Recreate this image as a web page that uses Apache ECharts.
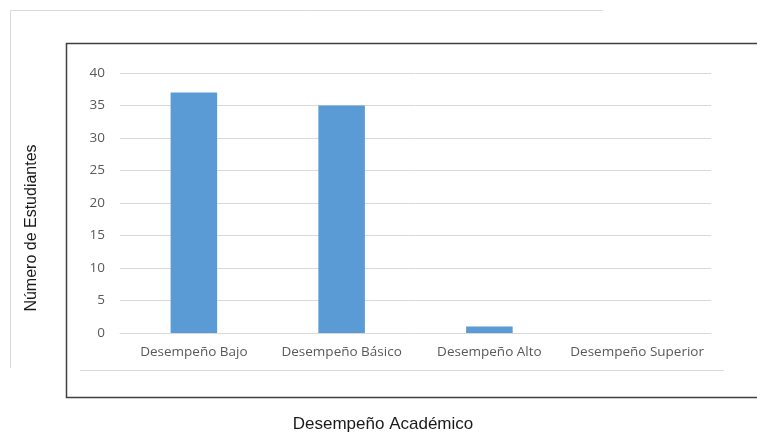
<!DOCTYPE html>
<html>
<head>
<meta charset="utf-8">
<script src="https://cdn.jsdelivr.net/npm/echarts@6/dist/echarts.min.js"></script>
<style>
  html, body { margin: 0; padding: 0; background: #fff; }
  #chart { width: 757px; height: 432px; }
</style>
</head>
<body>
<div id="chart"></div>
<script>
// datos del gráfico
const categorias = ['Desempeño Bajo', 'Desempeño Básico', 'Desempeño Alto', 'Desempeño Superior']
const estudiantes = [37, 35, 1, 0]

const chart = echarts.init(document.getElementById('chart'))
const font = '"Open Sans", "Noto Sans", sans-serif'
const fontTitulo = '"Liberation Sans", Arial, sans-serif'

chart.setOption({
  animation: false,
  textStyle: { fontFamily: font },
  grid: { left: 120, right: 46, top: 73, bottom: 99, outerBoundsMode: 'none', containLabel: false },
  // marcos decorativos
  graphic: [
    { type: 'polyline', shape: { points: [[10.5, 368], [10.5, 10.5], [603, 10.5]] },
      style: { stroke: '#d9d9d9', fill: null, lineWidth: 1 } },
    { type: 'rect', shape: { x: 66.5, y: 43.5, width: 720, height: 354 },
      style: { stroke: '#404040', fill: null, lineWidth: 1.5 } },
    { type: 'line', shape: { x1: 80, y1: 370.5, x2: 724, y2: 370.5 },
      style: { stroke: '#d9d9d9', lineWidth: 1 } }
  ],
  xAxis: {
    type: 'category',
    data: categorias,
    name: 'Desempeño Académico',
    nameLocation: 'middle',
    nameGap: 83,
    nameTextStyle: { color: '#1a1a1a', fontSize: 17, fontFamily: fontTitulo, padding: [0, 65, 0, 0] },
    axisLine: { lineStyle: { color: '#d9d9d9' } },
    axisTick: { show: false },
    axisLabel: { color: '#595959', fontSize: 13.5, margin: 12, interval: 0, fontFamily: font }
  },
  yAxis: {
    type: 'value',
    min: 0,
    max: 40,
    interval: 5,
    name: 'Número de Estudiantes',
    nameLocation: 'middle',
    nameGap: 80,
    nameTextStyle: { color: '#1a1a1a', fontSize: 16, fontFamily: fontTitulo, padding: [0, 50, 0, 0] },
    axisLine: { show: false },
    axisTick: { show: false },
    axisLabel: { color: '#595959', fontSize: 13.5, margin: 15, fontFamily: font },
    splitLine: { lineStyle: { color: '#d9d9d9' } }
  },
  series: [
    {
      name: 'Estudiantes',
      type: 'bar',
      data: estudiantes,
      barWidth: '31.5%',
      itemStyle: { color: '#5b9bd5' }
    }
  ]
})
</script>
</body>
</html>
